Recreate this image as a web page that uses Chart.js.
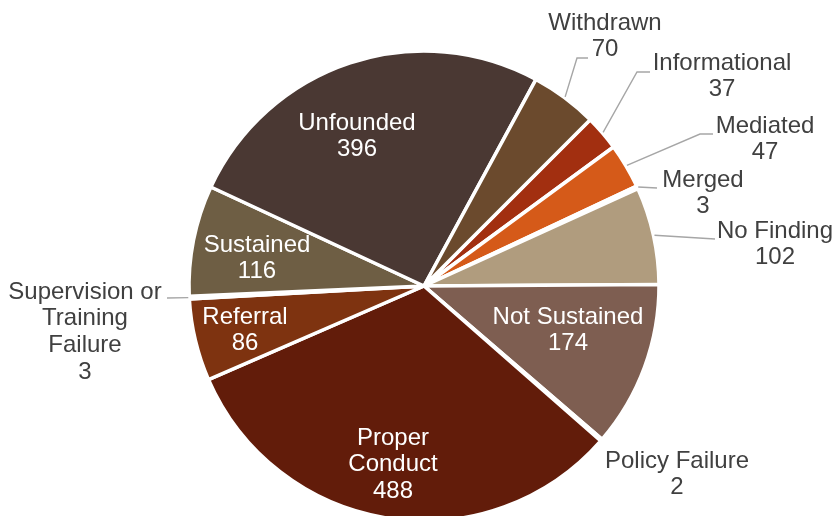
<!DOCTYPE html>
<html>
<head>
<meta charset="utf-8">
<script src="https://cdn.jsdelivr.net/npm/chart.js@4/dist/chart.umd.min.js"></script>
<style>
  html, body { margin: 0; padding: 0; background: #ffffff; }
  #wrap { width: 838px; height: 516px; position: relative; overflow: hidden; }
</style>
</head>
<body>
<div id="wrap"><canvas id="pie" width="838" height="516"></canvas></div>
<script>
// Complaint dispositions (slices run clockwise in this order)
const categories = [
  'Informational', 'Mediated', 'Merged', 'No Finding', 'Not Sustained',
  'Policy Failure', 'Proper Conduct', 'Referral',
  'Supervision or Training Failure', 'Sustained', 'Unfounded', 'Withdrawn'
];
const counts = [37, 47, 3, 102, 174, 2, 488, 86, 3, 116, 396, 70];
const sliceColors = [
  '#A22F10', '#D55A19', '#C77A3E', '#B09C7E', '#7E5E51',
  '#8A4A2E', '#621C0A', '#7E3310', '#8C6A4C', '#6E5E44', '#4A3833', '#6B4A2D'
];

// How each category name wraps onto lines in its label
const labelLines = {
  'Proper Conduct': ['Proper', 'Conduct'],
  'Supervision or Training Failure': ['Supervision or', 'Training', 'Failure']
};

// Label placement, in pixels relative to the pie centre.
// inside: white text on the slice; outside: grey text with optional leader line.
const labelLayout = {
  'Unfounded':      { inside: true, dx: -67,  dy: -163 },
  'Sustained':      { inside: true, dx: -167, dy: -41 },
  'Referral':       { inside: true, dx: -179, dy: 31 },
  'Proper Conduct': { inside: true, dx: -31,  dy: 152 },
  'Not Sustained':  { inside: true, dx: 144,  dy: 31 },
  'Withdrawn':      { dx: 181, dy: -263, path: [[153, -228], [164, -228]] },
  'Informational':  { dx: 298, dy: -223, path: [[213, -214], [226, -214]] },
  'Mediated':       { dx: 341, dy: -160, path: [[276, -152], [289, -152]] },
  'Merged':         { dx: 279, dy: -106, path: [[233, -98]] },
  'No Finding':     { dx: 351, dy: -55,  path: [[291, -47]] },
  'Policy Failure': { dx: 253, dy: 175 },
  'Supervision or Training Failure': { dx: -339, dy: 6, path: [[-257, 12]] }
};

const FONT = '24px "Liberation Sans", Arial, sans-serif';
const LINE_H = 26.7;

const sliceLabels = {
  id: 'sliceLabels',
  afterDatasetsDraw(chart) {
    const ctx = chart.ctx;
    const meta = chart.getDatasetMeta(0);
    ctx.save();
    ctx.font = FONT;
    ctx.textAlign = 'center';
    ctx.textBaseline = 'middle';
    categories.forEach((name, i) => {
      const arc = meta.data[i];
      const lay = labelLayout[name];
      if (!arc || !lay) return;
      const cx = arc.x, cy = arc.y;
      // leader line from the slice's outer edge
      if (lay.path) {
        const mid = (arc.startAngle + arc.endAngle) / 2;
        const r0 = arc.outerRadius + 1;
        ctx.beginPath();
        ctx.moveTo(cx + Math.cos(mid) * r0, cy + Math.sin(mid) * r0);
        lay.path.forEach(p => ctx.lineTo(cx + p[0], cy + p[1]));
        ctx.strokeStyle = '#A6A6A6';
        ctx.lineWidth = 1.4;
        ctx.stroke();
      }
      const lines = (labelLines[name] || [name]).concat(String(counts[i]));
      ctx.fillStyle = lay.inside ? '#FFFFFF' : '#404040';
      lines.forEach((t, k) => {
        ctx.fillText(t, cx + lay.dx, cy + lay.dy + k * LINE_H);
      });
    });
    ctx.restore();
  }
};

new Chart(document.getElementById('pie'), {
  type: 'pie',
  data: {
    labels: categories,
    datasets: [{
      data: counts,
      backgroundColor: sliceColors,
      borderColor: '#FFFFFF',
      borderWidth: 3.5,
      clip: false
    }]
  },
  options: {
    responsive: false,
    animation: false,
    devicePixelRatio: 1,
    rotation: 45,
    radius: 235,
    layout: { padding: { top: 56, left: 10, right: 0, bottom: 0 } },
    plugins: {
      legend: { display: false },
      tooltip: { enabled: false }
    }
  },
  plugins: [sliceLabels]
});
</script>
</body>
</html>
